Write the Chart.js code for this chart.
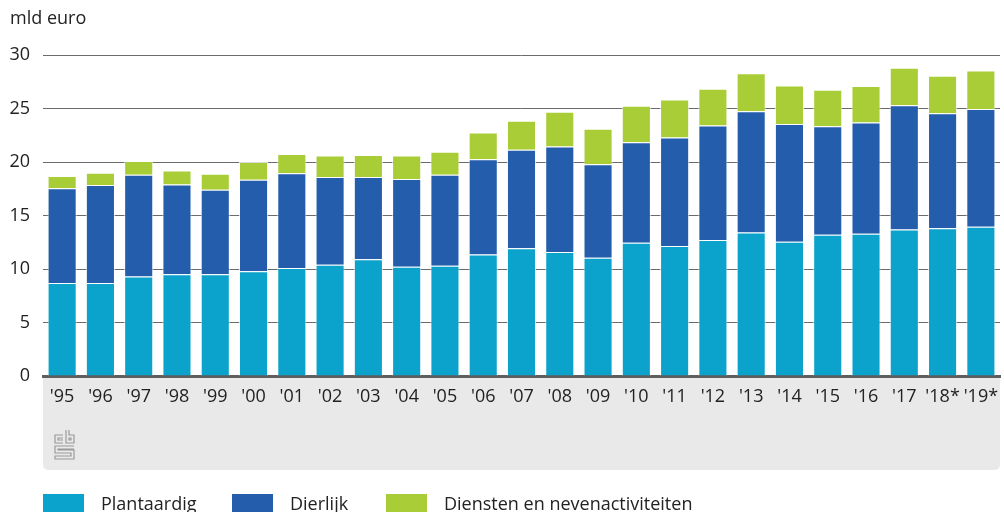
<!DOCTYPE html>
<html>
<head>
<meta charset="utf-8">
<script src="https://cdn.jsdelivr.net/npm/chart.js@4/dist/chart.umd.min.js"></script>
<style>
html,body{margin:0;padding:0;background:#fff;}
#wrap{position:relative;width:1004px;height:512px;}
</style>
</head>
<body>
<div id="wrap"><canvas id="c" width="1004" height="512"></canvas></div>
<script>
const categories = ["'95","'96","'97","'98","'99","'00","'01","'02","'03","'04","'05","'06","'07","'08","'09","'10","'11","'12","'13","'14","'15","'16","'17","'18*","'19*"];
const plantaardig = [8.7,8.7,9.3,9.5,9.5,9.8,10.1,10.4,10.9,10.2,10.3,11.35,11.95,11.6,11.05,12.45,12.15,12.7,13.4,12.55,13.2,13.3,13.7,13.8,13.95];
const dierlijk = [8.85,9.15,9.5,8.4,7.9,8.55,8.85,8.2,7.7,8.2,8.5,8.9,9.2,9.85,8.75,9.4,10.15,10.7,11.35,11.0,10.15,10.4,11.6,10.75,11.0];
const diensten = [1.15,1.15,1.3,1.3,1.5,1.65,1.8,2.0,2.05,2.2,2.15,2.5,2.7,3.25,3.3,3.4,3.55,3.45,3.55,3.6,3.4,3.4,3.5,3.5,3.6];
const seriesNames = ["Plantaardig","Dierlijk","Diensten en nevenactiviteiten"];
const seriesColors = ["#0ba3cb","#235dab","#a8cd36"];
const yTicks = [0,5,10,15,20,25,30];
const yUnit = "mld euro";

const FONT = "'Open Sans', sans-serif";

const decor = {
  id: 'decor',
  beforeDraw(chart) {
    const ctx = chart.ctx;
    const a = chart.chartArea;
    ctx.save();
    ctx.fillStyle = '#e9e9e9';
    const x0 = a.left, x1 = a.right, y0 = a.bottom, y1 = 470, r = 6;
    ctx.beginPath();
    ctx.moveTo(x0, y0);
    ctx.lineTo(x1, y0);
    ctx.lineTo(x1, y1 - r);
    ctx.quadraticCurveTo(x1, y1, x1 - r, y1);
    ctx.lineTo(x0 + r, y1);
    ctx.quadraticCurveTo(x0, y1, x0, y1 - r);
    ctx.closePath();
    ctx.fill();
    ctx.strokeStyle = '#9a9a9a';
    ctx.lineWidth = 1.2;
    const lx = 55, ly = 430;
    ctx.beginPath();
    ctx.moveTo(lx + 8, ly + 5); ctx.lineTo(lx, ly + 5); ctx.lineTo(lx, ly + 13); ctx.lineTo(lx + 8, ly + 13);
    ctx.moveTo(lx + 8, ly + 8); ctx.lineTo(lx + 3, ly + 8); ctx.lineTo(lx + 3, ly + 10); ctx.lineTo(lx + 8, ly + 10);
    ctx.moveTo(lx + 11, ly); ctx.lineTo(lx + 11, ly + 13); ctx.lineTo(lx + 19, ly + 13); ctx.lineTo(lx + 19, ly + 5); ctx.lineTo(lx + 14, ly + 5); ctx.lineTo(lx + 14, ly);
    ctx.rect(lx + 14, ly + 8, 2, 2);
    ctx.moveTo(lx + 19, ly + 16); ctx.lineTo(lx, ly + 16); ctx.lineTo(lx, ly + 23); ctx.lineTo(lx + 16, ly + 23); ctx.lineTo(lx + 16, ly + 26); ctx.lineTo(lx, ly + 26); ctx.lineTo(lx, ly + 29); ctx.lineTo(lx + 19, ly + 29); ctx.lineTo(lx + 19, ly + 20); ctx.lineTo(lx + 3, ly + 20); ctx.lineTo(lx + 3, ly + 19); ctx.lineTo(lx + 19, ly + 19);
    ctx.stroke();
    ctx.fillStyle = '#222';
    ctx.font = '18px ' + FONT;
    ctx.textBaseline = 'middle';
    ctx.textAlign = 'left';
    ctx.fillText(yUnit, 10, 19);
    ctx.restore();
  },
  afterDraw(chart) {
    const ctx = chart.ctx;
    ctx.save();
    ctx.font = '18px ' + FONT;
    ctx.textBaseline = 'middle';
    ctx.textAlign = 'left';
    const pos = [43, 232, 386];
    chart.data.datasets.forEach((ds, i) => {
      const x = pos[i];
      ctx.fillStyle = ds.backgroundColor;
      ctx.fillRect(x, 494, 41, 20);
      ctx.fillStyle = '#222';
      ctx.fillText(ds.label, x + 58, 505);
    });
    ctx.restore();
  }
};

new Chart(document.getElementById('c'), {
  type: 'bar',
  data: {
    labels: categories,
    datasets: [
      {label: seriesNames[0], data: plantaardig, backgroundColor: seriesColors[0]},
      {label: seriesNames[1], data: dierlijk, backgroundColor: seriesColors[1]},
      {label: seriesNames[2], data: diensten, backgroundColor: seriesColors[2]}
    ].map(d => Object.assign(d, {
      borderColor: 'rgba(255,255,255,0.75)',
      borderWidth: 1,
      borderSkipped: 'start',
      barPercentage: 0.76,
      categoryPercentage: 1.0
    }))
  },
  options: {
    responsive: false,
    animation: false,
    layout: {padding: {top: 55, right: 4, left: 0, bottom: 0}},
    plugins: {legend: {display: false}, tooltip: {enabled: false}, title: {display: false}},
    scales: {
      x: {
        stacked: true,
        grid: {display: false, drawTicks: false},
        border: {display: true, color: '#5e5e5e', width: 3},
        ticks: {color: '#222', font: {family: FONT, size: 18}, padding: 10, maxRotation: 0, autoSkip: false},
        afterFit(scale) { scale.height = 136; scale.paddingRight = 0; }
      },
      y: {
        stacked: true,
        min: 0, max: 30,
        afterBuildTicks(scale) { scale.ticks = yTicks.map(v => ({value: v})); },
        grid: {color: '#6a6a6a', lineWidth: 1, drawTicks: false},
        border: {display: false},
        ticks: {color: '#222', font: {family: FONT, size: 18}, padding: 13},
        afterFit(scale) { scale.width = 43; }
      }
    }
  },
  plugins: [decor]
});
</script>
</body>
</html>
